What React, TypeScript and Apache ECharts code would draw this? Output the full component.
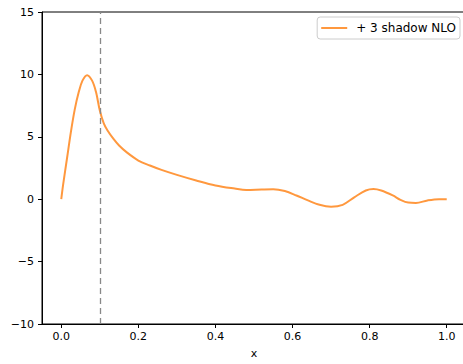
import React, { useEffect, useRef } from "react";
import * as echarts from "echarts";

const xValues = [0, 0.005, 0.015, 0.025, 0.035, 0.045, 0.055, 0.067, 0.08, 0.09, 0.1, 0.11, 0.12, 0.135, 0.15, 0.17, 0.2, 0.23, 0.26, 0.3, 0.35, 0.4, 0.45, 0.48, 0.52, 0.55, 0.58, 0.61, 0.64, 0.67, 0.7, 0.73, 0.76, 0.79, 0.81, 0.83, 0.86, 0.88, 0.9, 0.92, 0.95, 0.98, 1.0];
const yValues = [0, 1.2, 3.3, 5.4, 7.2, 8.55, 9.5, 9.94, 9.5, 8.6, 7.1, 6.1, 5.5, 4.85, 4.3, 3.75, 3.1, 2.7, 2.35, 1.95, 1.5, 1.1, 0.85, 0.74, 0.78, 0.8, 0.65, 0.3, -0.1, -0.45, -0.6, -0.45, 0.15, 0.7, 0.82, 0.7, 0.3, -0.05, -0.27, -0.3, -0.1, 0, 0];
const xTicks = [0, 0.2, 0.4, 0.6, 0.8, 1.0];
const cutLine = 0.1;
const seriesName = "+ 3 shadow NLO";

export default function App() {
  const ref = useRef<HTMLDivElement>(null);
  useEffect(() => {
    if (!ref.current) return;
    const chart = echarts.init(ref.current, null, { renderer: "svg" });
    const font = "DejaVu Sans";
    chart.setOption({
      animation: false,
      backgroundColor: "#ffffff",
      textStyle: { fontFamily: font },
      grid: { left: 42, top: 12, bottom: 36, right: 8, show: true, borderColor: "#000", borderWidth: 1, backgroundColor: "transparent" },
      legend: {
        right: 14,
        top: 17,
        data: [seriesName],
        icon: "rect",
        itemWidth: 26,
        itemHeight: 2,
        itemGap: 8,
        padding: [5, 4, 5, 4],
        borderColor: "#cccccc",
        borderWidth: 1,
        borderRadius: 3,
        backgroundColor: "#ffffff",
        textStyle: { fontFamily: font, fontSize: 12, color: "#000", padding: [0, 0, 0, 4] },
      },
      xAxis: {
        type: "value",
        min: -0.05,
        max: 1.05,
        name: "x",
        nameLocation: "middle",
        nameGap: 24,
        nameTextStyle: { fontFamily: font, fontSize: 11, color: "#000" },
        splitLine: { show: false },
        axisLine: { show: true, onZero: false, lineStyle: { color: "#000", width: 1 } },
        axisTick: { show: true, length: 4, lineStyle: { color: "#000" }, customValues: xTicks },
        axisLabel: {
          fontFamily: font,
          fontSize: 11,
          color: "#000",
          margin: 7,
          customValues: xTicks,
          formatter: (v: number) => v.toFixed(1),
        },
      },
      yAxis: {
        type: "value",
        min: -10,
        max: 15,
        interval: 5,
        splitLine: { show: false },
        axisLine: { show: true, onZero: false, lineStyle: { color: "#000", width: 1 } },
        axisTick: { show: true, length: 4, lineStyle: { color: "#000" } },
        axisLabel: {
          fontFamily: font,
          fontSize: 11,
          color: "#000",
          margin: 8,
          formatter: (v: number) => (v < 0 ? "\u2212" + Math.abs(v) : String(v)),
        },
      },
      series: [
        {
          name: seriesName,
          type: "line",
          data: xValues.map((x, i) => [x, yValues[i]]),
          smooth: 0.35,
          showSymbol: false,
          symbol: "none",
          lineStyle: { color: "#ff983e", width: 2 },
          itemStyle: { color: "#ff983e" },
          markLine: {
            silent: true,
            symbol: "none",
            label: { show: false },
            lineStyle: { color: "#888888", type: [6, 4], width: 1.3 },
            data: [{ xAxis: cutLine }],
          },
          z: 3,
        },
      ],
    });
    return () => chart.dispose();
  }, []);
  return (
    <div style={{ width: 463, height: 364, position: "absolute", left: 0, top: 0, overflow: "hidden" }}>
      <div ref={ref} style={{ width: 474, height: 364 }} />
    </div>
  );
}
